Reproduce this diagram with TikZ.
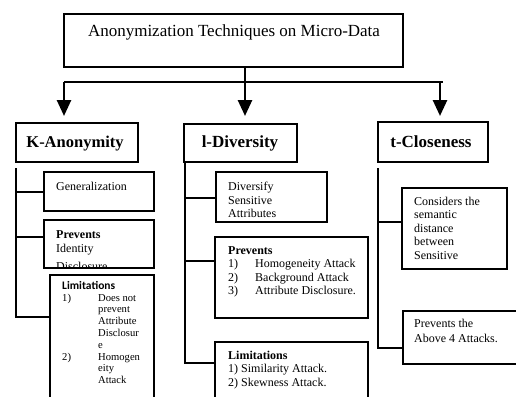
\documentclass[tikz,border=0pt]{standalone}
\usepackage{fontspec}
\setmainfont{Liberation Serif}
\newfontfamily\calibri{Carlito}
\usetikzlibrary{arrows.meta}
\begin{document}
\begin{tikzpicture}[x=1pt,y=-1pt,
  box/.style={draw,line width=1.4pt,inner sep=0,outer sep=0,anchor=north west},
  conn/.style={line width=1.5pt},
  arr/.style={line width=2.6pt,-{Triangle[width=14pt,length=16pt]}},
  txt/.style={anchor=base west,inner sep=0,font=\fontsize{12}{13.5}\selectfont},
  small/.style={anchor=base west,inner sep=0,font=\fontsize{10.6}{11.8}\selectfont},
  head/.style={anchor=base,inner sep=0,font=\fontsize{17}{20}\selectfont\bfseries},
]
\clip (0,0) rectangle (516,396);
\fill[white] (0,0) rectangle (516,396);

% title
\node[box,minimum width=339pt,minimum height=53pt] (title) at (64,14) {};
\node[anchor=base,inner sep=0,font=\fontsize{17}{20}\selectfont] (titletxt) at (234,37) {Anonymization Techniques on Micro-Data};

% heading boxes
\node[box,minimum width=122pt,minimum height=39pt] (kbox) at (16,123) {};
\node[box,minimum width=113pt,minimum height=38pt] (lbox) at (184,124) {};
\node[box,minimum width=110pt,minimum height=40pt] (tbox) at (378,122) {};
\node[head,font=\fontsize{16.5}{20}\selectfont\bfseries] (ktxt) at (75,147) {K-Anonymity};
\node[head] (ltxt) at (240,147.5) {l-Diversity};
\node[head] (ttxt) at (431,147.5) {t-Closeness};

% top connectors
\coordinate (hj) at (245,82);
\coordinate (hl) at (64,82);
\coordinate (hm) at (245,82);
\coordinate (hr) at (440,82);
\coordinate (hre) at (443,82);
\draw[line width=2.2pt] (hj |- title.south) -- (hj);
\draw[line width=2.2pt] (hl) -- (hre);
\draw[arr,shorten >=7pt] (hl) -- (hl |- kbox.north);
\draw[arr,shorten >=8pt] (hm) -- (hm |- lbox.north);
\draw[arr,shorten >=6pt] (hr) -- (hr |- tbox.north);

% K-Anonymity branch
\node[box,minimum width=110pt,minimum height=39pt] (kgen) at (44,172) {};
\node[box,minimum width=110pt,minimum height=48pt] (kprev) at (44,220) {};
\node[box,minimum width=104pt,minimum height=140pt] (klim) at (50,275) {};
\coordinate (kt) at (16,168);
\coordinate (k1) at (16,192);
\coordinate (k2) at (16,237);
\coordinate (kb) at (16,317);
\draw[conn] (kt) -- (kb) -- (kb -| klim.west);
\draw[conn] (k1) -- (k1 -| kgen.west);
\draw[conn] (k2) -- (k2 -| kprev.west);

\node[txt] (kgentxt) at (56,190.5) {Generalization};
\begin{scope}
\clip (kprev.north west) rectangle (kprev.south east);
\node[txt,font=\fontsize{12}{13.5}\selectfont\bfseries] (kprevh) at (56,238) {Prevents};
\node[txt] (kprev1) at (56,252) {Identity};
\node[txt] (kprev2) at (56,270.5) {Disclosure};
\end{scope}
\draw[line width=1.4pt] (kprev.north west) rectangle (kprev.south east);

\node[anchor=base west,inner sep=0,font=\calibri\bfseries\fontsize{11.5}{13}\selectfont] (klimh) at (62,289) {Limitations};
\node[small] (kl1n) at (62,301) {1)};
\node[small] (kl1a) at (98,301) {Does not};
\node[small] (kl1b) at (98,312.8) {prevent};
\node[small] (kl1c) at (98,324.6) {Attribute};
\node[small] (kl1d) at (98,336.4) {Disclosur};
\node[small] (kl1e) at (98,348.2) {e};
\node[small] (kl2n) at (62,360) {2)};
\node[small] (kl2a) at (98,360) {Homogen};
\node[small] (kl2b) at (98,371.8) {eity};
\node[small] (kl2c) at (98,383.6) {Attack};

% l-Diversity branch
\node[box,minimum width=111pt,minimum height=50pt] (ldiv) at (216,172) {};
\node[box,minimum width=153pt,minimum height=81pt] (lprev) at (215,237) {};
\node[box,minimum width=153pt,minimum height=80pt] (llim) at (215,342) {};
\coordinate (lt) at (185,162);
\coordinate (l1) at (185,198);
\coordinate (l2) at (185,261);
\coordinate (lb) at (185,363);
\draw[conn] (lt) -- (lb) -- (lb -| llim.west);
\draw[conn] (l1) -- (l1 -| ldiv.west);
\draw[conn] (l2) -- (l2 -| lprev.west);

\node[txt] (ld1) at (228,190.5) {Diversify};
\node[txt] (ld2) at (228,204) {Sensitive};
\node[txt] (ld3) at (228,217.5) {Attributes};

\node[txt,font=\fontsize{12}{13.5}\selectfont\bfseries] (lph) at (228,254.5) {Prevents};
\node[txt] (lp1n) at (228,267.5) {1)};
\node[txt] (lp1) at (255,267.5) {Homogeneity Attack};
\node[txt] (lp2n) at (228,281) {2)};
\node[txt] (lp2) at (255,281) {Background Attack};
\node[txt] (lp3n) at (228,294.5) {3)};
\node[txt] (lp3) at (255,294.5) {Attribute Disclosure.};

\node[txt,font=\fontsize{12}{13.5}\selectfont\bfseries] (llh) at (228,359.5) {Limitations};
\node[txt] (ll1) at (228,372.5) {1) Similarity Attack.};
\node[txt] (ll2) at (228,386) {2) Skewness Attack.};

% t-Closeness branch
\node[box,minimum width=105pt,minimum height=81pt] (tcons) at (402,188) {};
\node[box,minimum width=125pt,minimum height=53pt] (tprev) at (403,311) {};
\coordinate (tt) at (378,168);
\coordinate (t1) at (378,222);
\coordinate (tb) at (378,348);
\draw[conn] (tt) -- (tb) -- (tb -| tprev.west);
\draw[conn] (t1) -- (t1 -| tcons.west);

\node[txt] (tc1) at (414,205) {Considers the};
\node[txt] (tc2) at (414,218.5) {semantic};
\node[txt] (tc3) at (414,232) {distance};
\node[txt] (tc4) at (414,245.5) {between};
\node[txt] (tc5) at (414,259) {Sensitive};

\node[txt] (tp1) at (414,327.5) {Prevents the};
\node[txt] (tp2) at (414,342) {Above 4 Attacks.};
\end{tikzpicture}
\end{document}
